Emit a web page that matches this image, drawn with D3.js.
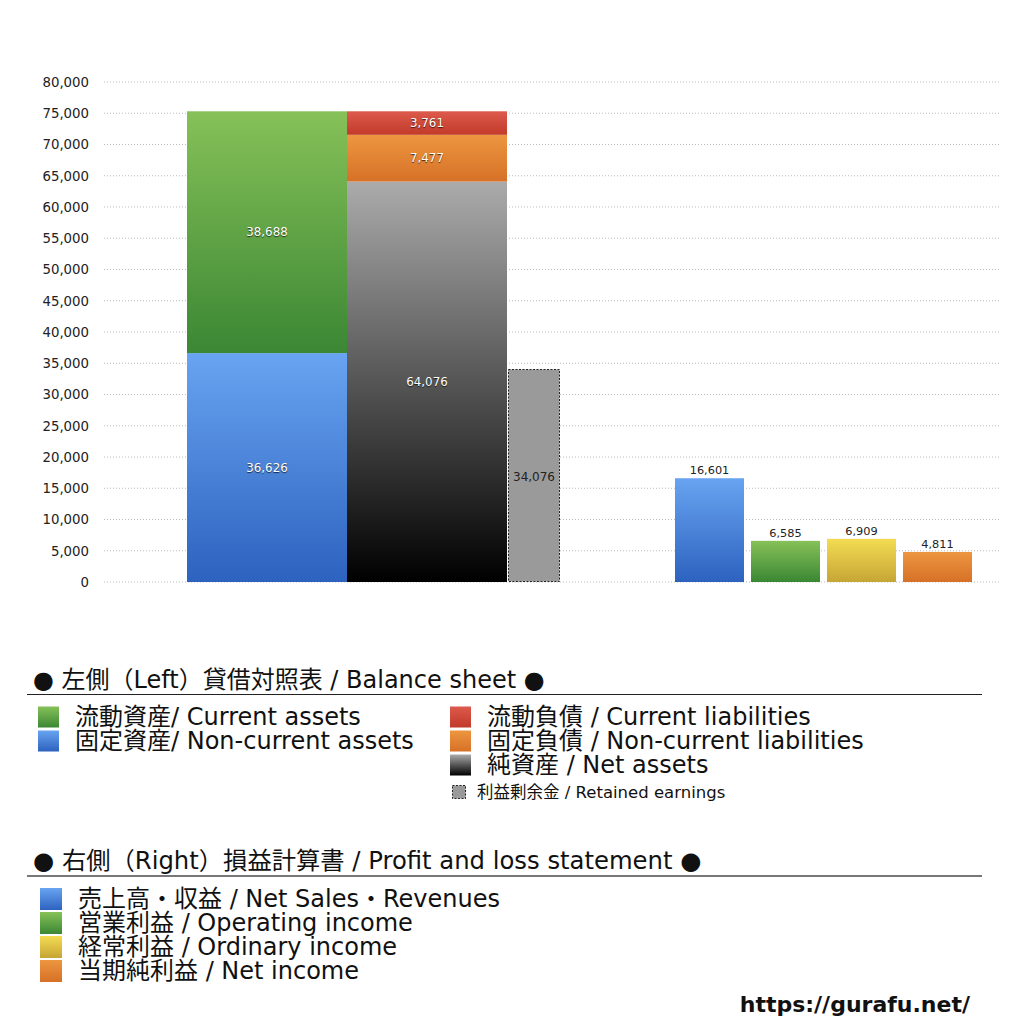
<!DOCTYPE html>
<html>
<head>
<meta charset="utf-8">
<script src="https://cdn.jsdelivr.net/npm/d3@7"></script>
<style>
  body { margin: 0; background: #fff; }
  text { font-family: "DejaVu Sans", "Noto Sans CJK JP", sans-serif; }
  .inlbl { fill: #fff; text-shadow: 0 1px 1px rgba(0,0,0,0.7); }
</style>
</head>
<body>
<div id="chart"></div>
<script>
// Balance sheet (left) and profit & loss (right) values
var assetLabels = ["固定資産/ Non-current assets", "流動資産/ Current assets"];
var assetValues = [36626, 38688];

var liabLabels = ["純資産 / Net assets", "固定負債 / Non-current liabilities", "流動負債 /  Current liabilities"];
var liabValues = [64076, 7477, 3761];

var retainedLabel = "利益剰余金 / Retained earnings";
var retainedValue = 34076;

var plLabels = ["売上高・収益 / Net Sales・Revenues", "営業利益 / Operating income", "経常利益 / Ordinary income", "当期純利益 / Net income"];
var plValues = [16601, 6585, 6909, 4811];

var yTickValues = d3.range(0, 80001, 5000);

var svgWidth = 1024;
var svgHeight = 1024;

var svg = d3.select("#chart").append("svg")
    .attr("width", svgWidth).attr("height", svgHeight);

var defs = svg.append("defs");

// gradient helper (top colour -> bottom colour)
function grad(id, top, bottom) {
    var g = defs.append("linearGradient").attr("id", id)
        .attr("x1", 0).attr("y1", 0).attr("x2", 0).attr("y2", 1);
    g.append("stop").attr("offset", "0%").attr("stop-color", top);
    g.append("stop").attr("offset", "100%").attr("stop-color", bottom);
    return "url(#" + id + ")";
}

var blueFill = grad("gBlue", "#68a4f1", "#2d62bf");
var greenFill = grad("gGreen", "#86c158", "#3b8734");
var redFill = grad("gRed", "#dc5a4c", "#c23a2a");
var orangeFill = grad("gOrange", "#ed9640", "#d67127");
var blackFill = grad("gBlack", "#ababab", "#000000");
var yellowFill = grad("gYellow", "#f3dc52", "#c6a535");

var assetFills = [blueFill, greenFill];
var liabFills = [blackFill, orangeFill, redFill];
var plFills = [blueFill, greenFill, yellowFill, orangeFill];

// scales
var y = d3.scaleLinear().domain([0, 80000]).range([582, 82]);

var leftX = d3.scaleBand().domain(["assets", "liab"]).range([187, 507]).padding(0);
var retainedX = [508, 560];
var plX = d3.scaleBand().domain(plLabels).range([675, 972]).paddingInner(7 / 76).paddingOuter(0);

// grid lines
svg.append("g").selectAll("line")
    .data(yTickValues)
    .join("line")
    .attr("x1", 104).attr("x2", 1000)
    .attr("y1", d => y(d)).attr("y2", d => y(d))
    .attr("stroke", "#bbb")
    .attr("stroke-width", 1)
    .attr("stroke-dasharray", "1,2");

// y axis labels
var yAxis = d3.axisLeft(y).tickValues(yTickValues).tickSize(0).tickPadding(0)
    .tickFormat(d3.format(","));
svg.append("g")
    .attr("transform", "translate(89,0)")
    .call(yAxis)
    .call(g => g.select(".domain").remove())
    .call(g => g.selectAll("text")
        .attr("font-family", "'DejaVu Sans', sans-serif")
        .attr("font-size", 13.3).attr("fill", "#222"));

// stacked data
function stack(values) {
    var acc = 0;
    return values.map(function(v, i) {
        var d = { i: i, value: v, y0: acc, y1: acc + v };
        acc += v;
        return d;
    });
}

var fmt = d3.format(",");

var assetStack = stack(assetValues);
var liabStack = stack(liabValues);

var assetG = svg.append("g");
assetG.selectAll("rect").data(assetStack).join("rect")
    .attr("x", leftX("assets")).attr("width", leftX.bandwidth())
    .attr("y", d => y(d.y1)).attr("height", d => y(d.y0) - y(d.y1))
    .attr("fill", d => assetFills[d.i]);
assetG.selectAll("text").data(assetStack).join("text")
    .attr("class", "inlbl")
    .attr("x", leftX("assets") + leftX.bandwidth() / 2)
    .attr("y", d => (y(d.y0) + y(d.y1)) / 2 + 4)
    .attr("text-anchor", "middle").attr("font-size", 11.8)
    .text(d => fmt(d.value));

var liabG = svg.append("g");
liabG.selectAll("rect").data(liabStack).join("rect")
    .attr("x", leftX("liab")).attr("width", leftX.bandwidth())
    .attr("y", d => y(d.y1)).attr("height", d => y(d.y0) - y(d.y1))
    .attr("fill", d => liabFills[d.i]);
liabG.selectAll("text").data(liabStack).join("text")
    .attr("class", "inlbl")
    .attr("x", leftX("liab") + leftX.bandwidth() / 2)
    .attr("y", d => (y(d.y0) + y(d.y1)) / 2 + 4)
    .attr("text-anchor", "middle").attr("font-size", 11.8)
    .text(d => fmt(d.value));

// retained earnings (dashed grey)
svg.append("rect")
    .attr("x", retainedX[0] + 0.5).attr("width", retainedX[1] - retainedX[0] - 1)
    .attr("y", y(retainedValue) + 0.5).attr("height", y(0) - y(retainedValue) - 1)
    .attr("fill", "#9a9a9a")
    .attr("stroke", "#222").attr("stroke-width", 1).attr("stroke-dasharray", "2,1.5");
svg.append("text")
    .attr("x", (retainedX[0] + retainedX[1]) / 2)
    .attr("y", (y(0) + y(retainedValue)) / 2 + 5)
    .attr("text-anchor", "middle").attr("font-size", 12).attr("fill", "#222")
    .text(fmt(retainedValue));

// P&L bars
var plG = svg.append("g");
plG.selectAll("rect").data(plValues).join("rect")
    .attr("x", (d, i) => plX(plLabels[i])).attr("width", plX.bandwidth())
    .attr("y", d => y(d)).attr("height", d => y(0) - y(d))
    .attr("fill", (d, i) => plFills[i]);
plG.selectAll("text").data(plValues).join("text")
    .attr("x", (d, i) => plX(plLabels[i]) + plX.bandwidth() / 2)
    .attr("y", d => y(d) - 4)
    .attr("text-anchor", "middle").attr("font-size", 11.3).attr("fill", "#222")
    .text(d => fmt(d));

// ---- legends ----
var legend = svg.append("g");

function square(g, x, yc, size, fill) {
    g.append("rect").attr("x", x).attr("y", yc - size / 2)
        .attr("width", size).attr("height", size).attr("fill", fill);
}

// Balance sheet header
legend.append("text").attr("x", 33).attr("y", 688)
    .attr("font-size", 24).attr("fill", "#111")
    .text("● 左側（Left）貸借対照表 / Balance sheet ●");
legend.append("line").attr("x1", 27).attr("x2", 982).attr("y1", 694.5).attr("y2", 694.5)
    .attr("stroke", "#222").attr("stroke-width", 1.2);

// assets column (top row = current assets)
var assetOrder = [1, 0];
assetOrder.forEach(function(idx, row) {
    var yc = 717 + row * 24;
    square(legend, 38, yc, 21, assetFills[idx]);
    legend.append("text").attr("x", 75).attr("y", yc + 8)
        .attr("font-size", 24).attr("fill", "#111").text(assetLabels[idx]);
});

var liabOrder = [2, 1, 0];
liabOrder.forEach(function(idx, row) {
    var yc = 717 + row * 24;
    square(legend, 450, yc, 21, liabFills[idx]);
    legend.append("text").attr("x", 487).attr("y", yc + 8)
        .attr("font-size", 24).attr("fill", "#111").text(liabLabels[idx]);
});
legend.append("rect").attr("x", 452.5).attr("y", 785.5).attr("width", 13).attr("height", 13)
    .attr("fill", "#9a9a9a").attr("stroke", "#222").attr("stroke-dasharray", "2,1.5");
legend.append("text").attr("x", 477).attr("y", 798)
    .attr("font-size", 16.5).attr("fill", "#111").text(retainedLabel);

// P&L header
legend.append("text").attr("x", 33).attr("y", 869)
    .attr("font-size", 24.3).attr("fill", "#111")
    .text("● 右側（Right）損益計算書 / Profit and loss statement ●");
legend.append("line").attr("x1", 27).attr("x2", 982).attr("y1", 876).attr("y2", 876)
    .attr("stroke", "#777").attr("stroke-width", 2);

plLabels.forEach(function(lbl, i) {
    var yc = 899 + i * 24;
    square(legend, 40, yc, 22, plFills[i]);
    legend.append("text").attr("x", 78).attr("y", yc + 8)
        .attr("font-size", 24).attr("fill", "#111").text(lbl);
});

// source url
svg.append("text").attr("x", 970).attr("y", 1012)
    .attr("text-anchor", "end").attr("font-size", 22).attr("font-weight", "bold")
    .attr("fill", "#111")
    .text("https://gurafu.net/");
</script>
</body>
</html>
